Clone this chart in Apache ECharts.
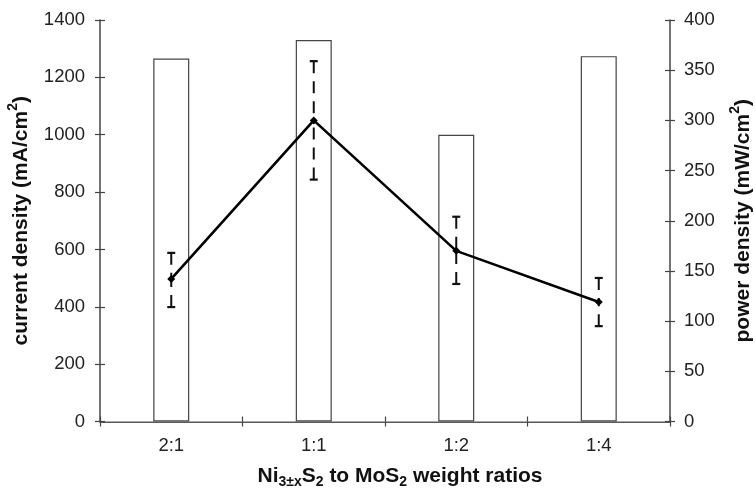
<!DOCTYPE html>
<html>
<head>
<meta charset="utf-8">
<script src="https://cdn.jsdelivr.net/npm/echarts@6/dist/echarts.min.js"></script>
<style>
  html, body { margin: 0; padding: 0; background: #fff; }
  #chart { width: 755px; height: 490px; }
</style>
</head>
<body>
<div id="chart"></div>
<script>
// weight ratios on the x axis
var categories = ['2:1', '1:1', '1:2', '1:4'];
// bars: current density (mA/cm2), left axis
var currentDensity = [1266, 1330, 1000, 1274];
// line: power density (mW/cm2), right axis, with error bars
var powerDensity = [142, 300, 170, 119];
var powerLow = [114, 241, 137, 95];
var powerHigh = [168, 359, 204, 143];

var font = '"Liberation Sans", Arial, sans-serif';
var axisColor = '#444';

var chart = echarts.init(document.getElementById('chart'));

function tickAxis(pos, min, max, interval) {
  // extra axis drawn over the main one so the ticks cross the axis line
  return {
    type: 'value', position: pos, min: min, max: max, interval: interval,
    axisLine: { show: false },
    axisTick: { show: true, inside: true, length: 5, lineStyle: { color: axisColor, width: 1.2 } },
    axisLabel: { show: false },
    splitLine: { show: false }
  };
}

function plain(v) { return String(v); }

var titleRich = {
  b: { fontSize: 21, fontWeight: 'bold', fontFamily: font, color: '#111', lineHeight: 26, verticalAlign: 'bottom' },
  p: { fontSize: 14, fontWeight: 'bold', fontFamily: font, color: '#111', lineHeight: 26, verticalAlign: 'top' },
  s: { fontSize: 14, fontWeight: 'bold', fontFamily: font, color: '#111', lineHeight: 26, verticalAlign: 'bottom', padding: [0, 0, -3, 0] }
};

var errorData = categories.map(function (c, i) {
  return [i, powerLow[i], powerHigh[i], powerDensity[i]];
});

var option = {
  animation: false,
  grid: { left: 100, right: 85, top: 20, bottom: 68.5, outerBoundsMode: 'none' },
  xAxis: [
    {
      type: 'category', data: categories, position: 'bottom',
      axisLine: { lineStyle: { color: '#222', width: 1.5 } },
      axisTick: { show: true, length: 5, lineStyle: { color: axisColor, width: 1.2 } },
      axisLabel: { color: '#222', fontSize: 18.5, fontFamily: font, margin: 15 },
      name: '{b|Ni}{s|3±x}{b|S}{s|2}{b| to MoS}{s|2}{b| weight ratios}',
      nameLocation: 'middle', nameGap: 39,
      nameTextStyle: { rich: titleRich, padding: [0, 0, 0, 30] }
    },
    {
      type: 'category', data: categories, position: 'bottom',
      axisLine: { show: false },
      axisTick: { show: true, inside: true, length: 5, lineStyle: { color: axisColor, width: 1.2 } },
      axisLabel: { show: false }
    },
    {
      type: 'category', data: categories, position: 'top',
      axisLine: { show: true, lineStyle: { color: '#aaa', width: 1.2 } },
      axisTick: { show: false },
      axisLabel: { show: false }
    }
  ],
  yAxis: [
    {
      type: 'value', position: 'left', min: 0, max: 1400, interval: 200,
      axisLine: { show: true, lineStyle: { color: axisColor, width: 1.5 } },
      axisTick: { show: true, length: 5, lineStyle: { color: axisColor, width: 1.2 } },
      axisLabel: { color: '#222', fontSize: 18.5, fontFamily: font, margin: 15, formatter: plain },
      splitLine: { show: false },
      name: '{b|current density (mA/cm}{p|2}{b|)}',
      nameLocation: 'middle', nameGap: 68, nameRotate: 90,
      nameTextStyle: { rich: titleRich }
    },
    {
      type: 'value', position: 'right', min: 0, max: 400, interval: 50,
      axisLine: { show: true, lineStyle: { color: axisColor, width: 1.5 } },
      axisTick: { show: true, length: 5, lineStyle: { color: axisColor, width: 1.2 } },
      axisLabel: { color: '#222', fontSize: 18.5, fontFamily: font, margin: 14, formatter: plain },
      splitLine: { show: false },
      name: '{b|power density (mW/cm}{p|2}{b|)}',
      nameLocation: 'middle', nameGap: 58, nameRotate: 90,
      nameTextStyle: { rich: titleRich }
    },
    tickAxis('left', 0, 1400, 200),
    tickAxis('right', 0, 400, 50)
  ],
  series: [
    {
      type: 'bar', xAxisIndex: 0, yAxisIndex: 0,
      data: currentDensity, barWidth: 36,
      itemStyle: { color: '#fff', borderColor: '#444', borderWidth: 1.2 },
      z: 1
    },
    {
      type: 'custom', xAxisIndex: 0, yAxisIndex: 1,
      data: errorData,
      encode: { x: 0, y: [1, 2] },
      z: 2,
      renderItem: function (params, api) {
        var lo = api.coord([api.value(0), api.value(1)]);
        var hi = api.coord([api.value(0), api.value(2)]);
        var mid = api.coord([api.value(0), api.value(3)]);
        var cap = 4;
        var st = { stroke: '#111', lineWidth: 2.2 };
        var dashed = { stroke: '#111', lineWidth: 2, lineDash: [12, 8] };
        return {
          type: 'group',
          children: [
            { type: 'line', shape: { x1: hi[0], y1: hi[1], x2: mid[0], y2: mid[1] }, style: dashed },
            { type: 'line', shape: { x1: lo[0], y1: lo[1], x2: mid[0], y2: mid[1] }, style: dashed },
            { type: 'line', shape: { x1: hi[0] - cap, y1: hi[1], x2: hi[0] + cap, y2: hi[1] }, style: st },
            { type: 'line', shape: { x1: lo[0] - cap, y1: lo[1], x2: lo[0] + cap, y2: lo[1] }, style: st }
          ]
        };
      }
    },
    {
      type: 'line', xAxisIndex: 0, yAxisIndex: 1,
      data: powerDensity,
      symbol: 'diamond', symbolSize: 8,
      itemStyle: { color: '#000' },
      lineStyle: { color: '#000', width: 2.6 },
      z: 3
    }
  ]
};

chart.setOption(option);
</script>
</body>
</html>
